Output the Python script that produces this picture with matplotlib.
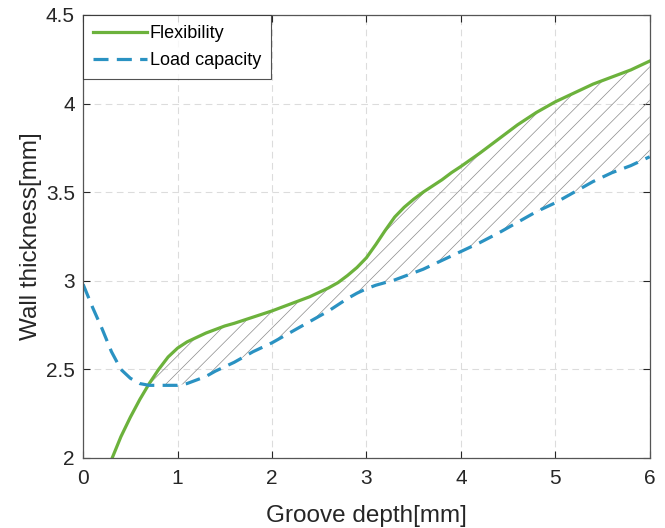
import matplotlib.pyplot as plt
import numpy as np

plt.rcParams['font.family'] = ['Liberation Sans', 'DejaVu Sans']
plt.rcParams['hatch.linewidth'] = 0.5

# groove depth [mm] - shared x grid
depth = [0.0, 0.1, 0.2, 0.3, 0.4, 0.5, 0.6, 0.7, 0.8, 0.9, 1.0,
         1.1, 1.2, 1.3, 1.4, 1.5, 1.6, 1.8, 2.0, 2.2, 2.4,
         2.5, 2.6, 2.7, 2.8, 2.9, 3.0, 3.1, 3.2, 3.3, 3.4,
         3.5, 3.6, 3.7, 3.8, 3.9, 4.0, 4.2, 4.4, 4.6, 4.8,
         5.0, 5.2, 5.4, 5.6, 5.8, 6.0]

# wall thickness [mm] for flexibility (first points are below the axis)
flexibility = [1.55, 1.72, 1.87, 1.99, 2.12, 2.23, 2.33, 2.42, 2.50, 2.57, 2.62,
               2.655, 2.68, 2.705, 2.725, 2.745, 2.76, 2.795, 2.83, 2.87, 2.91,
               2.935, 2.96, 2.99, 3.03, 3.075, 3.13, 3.205, 3.285, 3.36, 3.415,
               3.46, 3.50, 3.535, 3.57, 3.61, 3.645, 3.72, 3.80, 3.88, 3.95,
               4.01, 4.06, 4.11, 4.15, 4.19, 4.24]

# wall thickness [mm] for load capacity
load_capacity = [2.98, 2.85, 2.73, 2.60, 2.50, 2.45, 2.42, 2.41, 2.41, 2.41, 2.41,
                 2.42, 2.44, 2.46, 2.49, 2.515, 2.54, 2.60, 2.65, 2.71, 2.77,
                 2.80, 2.83, 2.865, 2.90, 2.93, 2.955, 2.975, 2.99, 3.005, 3.025,
                 3.045, 3.065, 3.09, 3.115, 3.14, 3.165, 3.215, 3.27, 3.33, 3.39,
                 3.44, 3.50, 3.56, 3.61, 3.65, 3.70]

x = np.array(depth)
yf = np.array(flexibility)
yl = np.array(load_capacity)

fig = plt.figure(figsize=(6.65, 5.28), dpi=100)
ax = fig.add_axes([0.125, 0.1326, 0.852, 0.839])

# hatched region where flexibility lies above load capacity
ax.fill_between(x, yl, yf, where=yf >= yl, interpolate=True,
                facecolor='none', edgecolor='#8a8a8a', hatch='//', linewidth=0)

ax.plot(x, yf, color='#6cb23c', linewidth=2.3, label='Flexibility')
ax.plot(x, yl, color='#2a92c2', linewidth=2.3, linestyle=(0, (4.7, 2.6)),
        label='Load capacity')

ax.set_xlim(0, 6)
ax.set_ylim(2, 4.5)
ax.set_xticks(np.arange(0, 7, 1))
ax.set_yticks([2, 2.5, 3, 3.5, 4, 4.5])
ax.set_yticklabels(['2', '2.5', '3', '3.5', '4', '4.5'])

ax.grid(True, linestyle=(0, (6, 4)), color='#dcdcdc', linewidth=0.8)
ax.set_axisbelow(True)
ax.tick_params(direction='in', top=True, right=True, labelsize=15,
               colors='#262626', length=5, width=0.8)
ax.tick_params(axis='x', pad=8)
ax.tick_params(axis='y', pad=6)
for s in ax.spines.values():
    s.set_color('#555555')
    s.set_linewidth(0.9)

ax.set_xlabel('Groove depth[mm]', fontsize=17.5, color='#262626', labelpad=12)
ax.set_ylabel('Wall thickness[mm]', fontsize=17.5, color='#262626', labelpad=3)

leg = ax.legend(loc='upper left', fontsize=13, frameon=True, fancybox=False,
                edgecolor='#262626', borderaxespad=0, handlelength=3.0,
                handletextpad=0.15, borderpad=0.55, labelspacing=0.55)
leg.get_frame().set_linewidth(0.8)

fig.savefig('out.png', dpi=100)
